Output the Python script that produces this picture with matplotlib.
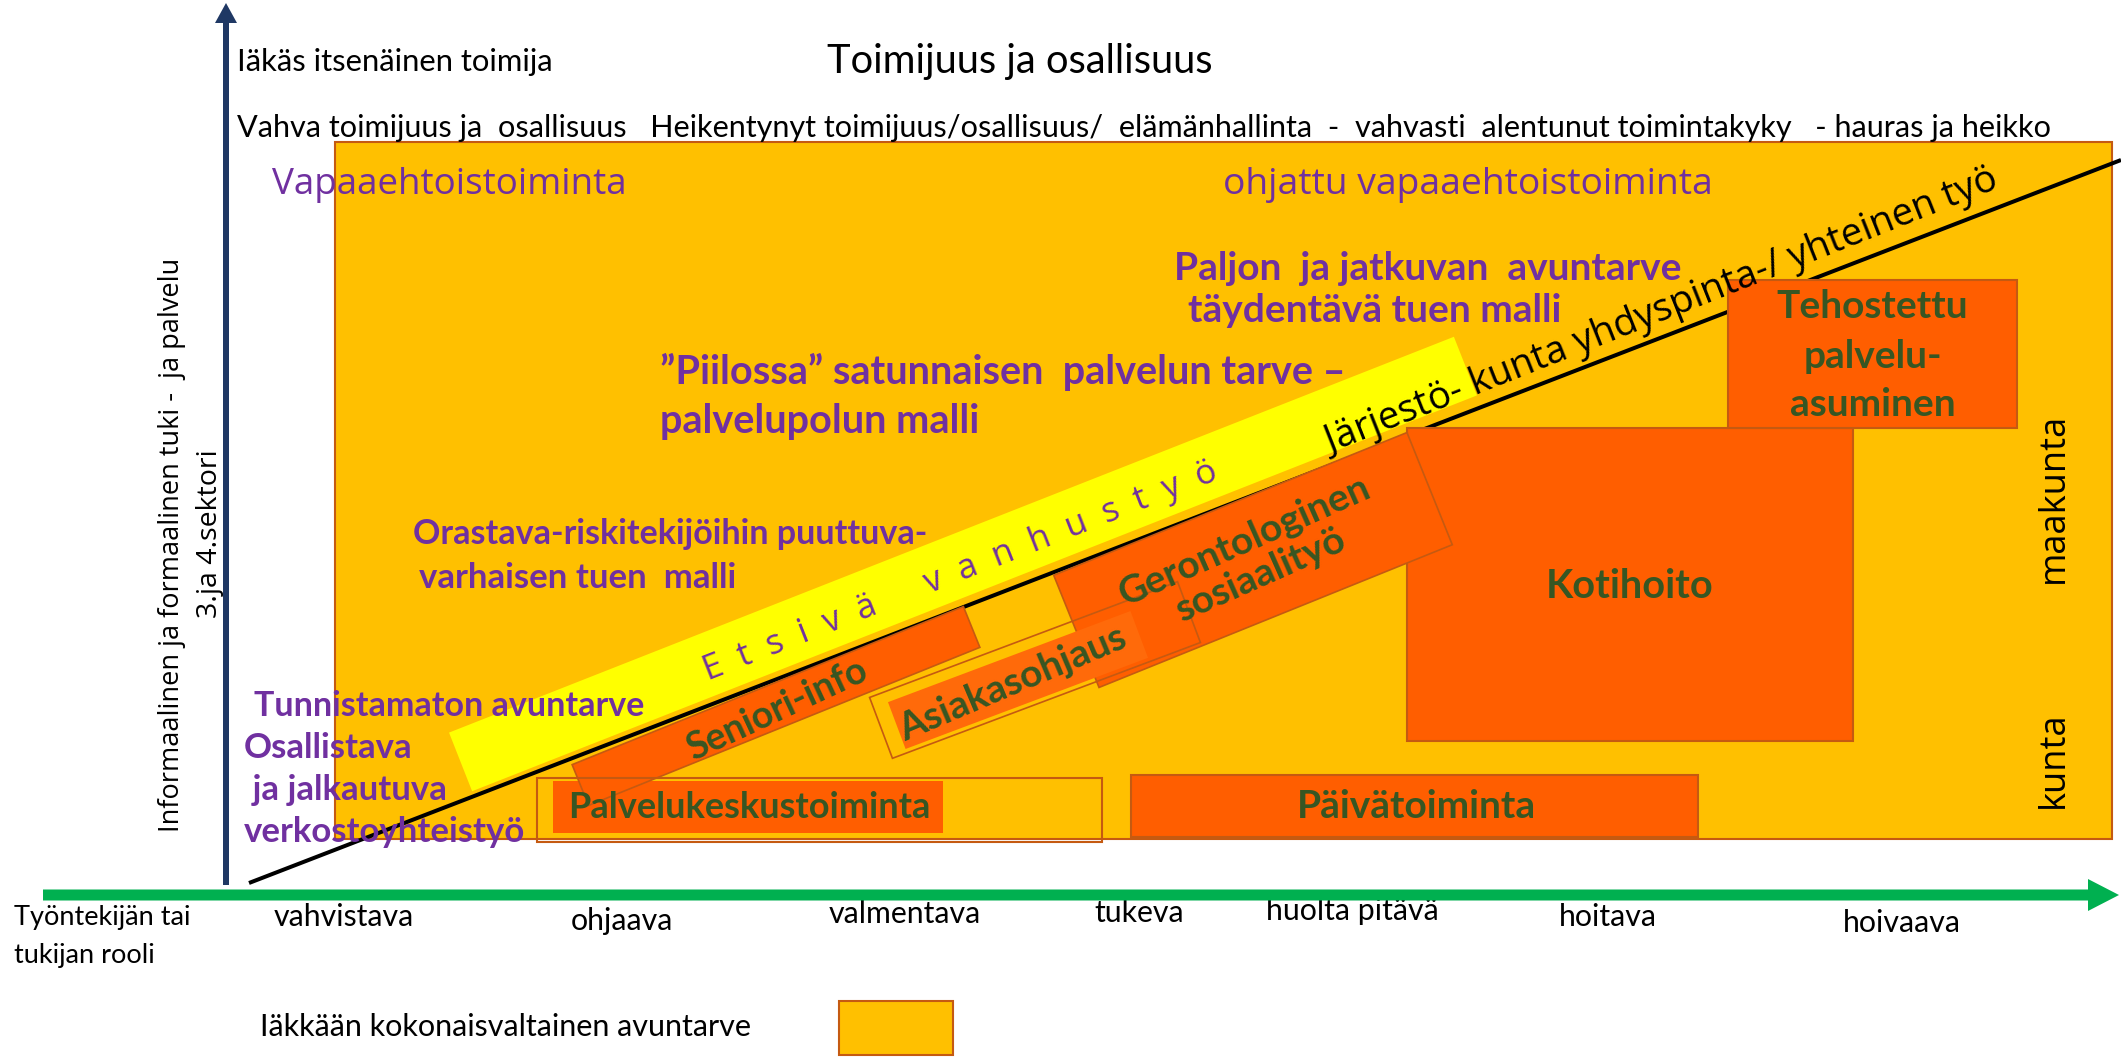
import numpy as np
import matplotlib
matplotlib.use("Agg")
import matplotlib.pyplot as plt
from matplotlib.patches import Rectangle, Polygon, FancyArrow

# ---------------- content (texts) ----------------
axis_title = "Toimijuus ja osallisuus"
top_left_label = "Iäkäs itsenäinen toimija"
scale_row = ("Vahva toimijuus ja  osallisuus   Heikentynyt toimijuus/osallisuus/  "
             "elämänhallinta  -  vahvasti  alentunut toimintakyky   - hauras ja heikko")
y_label = "Informaalinen ja formaalinen tuki -  ja palvelu"
y_sublabel = "3.ja 4.sektori"
role_title = ["Työntekijän tai", "tukijan rooli"]
roles = ["vahvistava", "ohjaava", "valmentava", "tukeva", "huolta pitävä", "hoitava", "hoivaava"]
volunteer_labels = ["Vapaaehtoistoiminta", "ohjattu vapaaehtoistoiminta"]
need_lines = ["Paljon  ja jatkuvan  avuntarve", "täydentävä tuen malli",
              "\u201dPiilossa\u201d satunnaisen  palvelun tarve \u2013", "palvelupolun malli",
              "Orastava-riskitekijöihin puuttuva-", "varhaisen tuen  malli",
              "Tunnistamaton avuntarve", "Osallistava", " ja jalkautuva", "verkostoyhteistyö"]
box_services = ["Palvelukeskustoiminta", "Päivätoiminta", "Kotihoito"]
housing_lines = ["Tehostettu", "palvelu-", "asuminen"]
tilted_services = ["Seniori-info", "Asiakasohjaus", "Gerontologinen\nsosiaalityö"]
outreach_label = "E  t  s  i  v  ä      v  a  n  h  u  s  t  y  ö"
interface_label = "Järjestö- kunta yhdyspinta-/ yhteinen työ"
level_labels = ["maakunta", "kunta"]
legend_label = "Iäkkään kokonaisvaltainen avuntarve"

# ---------------- layout (pixel space of the 2121x1057 picture) ----------------
W, H = 2121, 1057
role_x = [344, 622, 905, 1139, 1352, 1608, 1902]
role_y = [917, 921, 914, 913, 911, 917, 923]
need_xy = [(1174, 268), (1188, 311), (660, 372), (660, 422), (413, 534), (419, 578),
           (254, 706), (244, 748), (244, 790), (244, 832)]
need_size = [28, 28, 28.5, 28.5, 24.5, 25, 24.5, 25, 25, 25]
box_rects = [(553, 781, 390, 52), (1131, 775, 567, 62), (1407, 428, 446, 313)]
box_text_xy = [(749, 808), (1416, 806), (1630, 586)]
box_font = [26, 28, 28.5]
housing_rect = (1728, 280, 289, 148)
housing_y = [306, 357, 405]
level_y = [498, 760]
# rotated rectangles: center x, center y, length, height, angle (deg)
band = (963, 564, 1080, 63, 21.5)
seniori_rect = (776, 706, 422, 44, 22.0)
geront_rect = (1253, 560, 381, 121, 22.0)
asiakas_outer = (1035, 670, 329, 65, 20.6)
asiakas_inner = (1018, 680, 259, 50, 20.6)
tilted_text_xy = [(777, 710, 25), (1013, 683, 23), (1252, 558, 24)]

C_BG = "#FFC000"
C_EDGE = "#C55A11"
C_OR = "#FF5E00"
C_OR2 = "#FF6A0A"
C_YEL = "#FFFF00"
C_GREEN_TXT = "#375623"
C_PURPLE = "#7030A0"
C_BLUE = "#1F3864"
C_GREEN = "#00B050"

fig = plt.figure(figsize=(W / 100, H / 100), dpi=100)
ax = fig.add_axes([0, 0, 1, 1])
ax.set_xlim(0, W)
ax.set_ylim(H, 0)
ax.axis("off")

PX = 0.72  # points per pixel


def rot_rect(cx, cy, L, h, ang, **kw):
    a = np.deg2rad(ang)
    u = np.array([np.cos(a), -np.sin(a)])
    v = np.array([np.sin(a), np.cos(a)])
    c = np.array([cx, cy])
    pts = [c - L / 2 * u - h / 2 * v, c + L / 2 * u - h / 2 * v,
           c + L / 2 * u + h / 2 * v, c - L / 2 * u + h / 2 * v]
    return Polygon(pts, closed=True, **kw)


SANS = ["Lato", "DejaVu Sans"]
OPEN = ["Open Sans", "DejaVu Sans"]

# big background field
ax.add_patch(Rectangle((335, 142), 2112 - 335, 839 - 142, facecolor=C_BG,
                       edgecolor=C_EDGE, lw=1.5, zorder=1))

# yellow outreach band
ax.add_patch(rot_rect(*band, facecolor=C_YEL, edgecolor="none", zorder=2))

# diagonal interface line
ax.plot([249, 2121], [883, 160], color="black", lw=4 * PX, zorder=3, solid_capstyle="butt")

# axis-aligned service boxes
ax.add_patch(Rectangle((537, 778), 1102 - 537, 842 - 778, facecolor="none",
                       edgecolor=C_EDGE, lw=1.5, zorder=6))
for i, (x, y, w, h) in enumerate(box_rects):
    ax.add_patch(Rectangle((x, y), w, h, facecolor=C_OR,
                           edgecolor="none" if i == 0 else C_EDGE, lw=1.5, zorder=4))
    ax.text(*box_text_xy[i], box_services[i], fontsize=box_font[i], fontweight="bold",
            color=C_GREEN_TXT, family=SANS, ha="center", va="center", zorder=10)
ax.add_patch(Rectangle(housing_rect[:2], housing_rect[2], housing_rect[3], facecolor=C_OR,
                       edgecolor=C_EDGE, lw=1.5, zorder=4))
for s, y in zip(housing_lines, housing_y):
    ax.text(housing_rect[0] + housing_rect[2] / 2, y, s, fontsize=28, fontweight="bold",
            color=C_GREEN_TXT, family=SANS, ha="center", va="center", zorder=10)

# tilted service boxes (on top of the home-care box)
ax.add_patch(rot_rect(*seniori_rect, facecolor=C_OR, edgecolor=C_EDGE, lw=1.2, zorder=5))
ax.add_patch(rot_rect(*geront_rect, facecolor=C_OR, edgecolor=C_EDGE, lw=1.2, zorder=6))
ax.add_patch(rot_rect(*asiakas_inner, facecolor=C_OR2, edgecolor="none", zorder=7))
ax.add_patch(rot_rect(*asiakas_outer, facecolor="none", edgecolor=C_EDGE, lw=1.2, zorder=8))

for s, (x, y, r), fs in zip(tilted_services, tilted_text_xy, [27, 28, 28]):
    ax.text(x, y, s, fontsize=fs, fontweight="bold", color=C_GREEN_TXT, family=SANS,
            ha="center", va="center", rotation=r, rotation_mode="anchor",
            linespacing=1.1, multialignment="center", zorder=10)

# band label and interface label
ax.text(960, 571, outreach_label, fontsize=25, color=C_PURPLE, family=OPEN,
        ha="center", va="center", rotation=21.5, rotation_mode="anchor", zorder=10)
ax.text(1662, 312, interface_label, fontsize=27.5, color="black", family=OPEN,
        ha="center", va="center", rotation=21.6, rotation_mode="anchor", zorder=10)

# purple need texts
for s, (x, y), fs in zip(need_lines, need_xy, need_size):
    ax.text(x, y, s, fontsize=fs, fontweight="bold", color=C_PURPLE, family=SANS,
            ha="left", va="center", zorder=10)

ax.text(272, 185, volunteer_labels[0], fontsize=26.5, color=C_PURPLE, family=OPEN,
        ha="left", va="center", zorder=10)
ax.text(1468, 185, volunteer_labels[1], fontsize=26.8, color=C_PURPLE, family=OPEN,
        ha="center", va="center", zorder=10)

# top texts
ax.text(237, 62, top_left_label, fontsize=22.3, color="black", family=SANS, ha="left", va="center")
ax.text(1020, 62, axis_title, fontsize=28.7, color="black", family=SANS, ha="center", va="center")
ax.text(237, 128, scale_row, fontsize=22.1, color="black", family=SANS, ha="left", va="center")

# vertical axis labels
ax.text(172, 545, y_label, fontsize=19.5, color="black", family=OPEN, rotation=90,
        ha="center", va="center")
ax.text(210, 534, y_sublabel, fontsize=20.5, color="black", family=OPEN, rotation=90,
        ha="center", va="center")

# level labels
for s, y in zip(level_labels, level_y):
    ax.text(2054, y, s, fontsize=26, color="black", family=OPEN, rotation=90,
            ha="center", va="center", zorder=10)

# axes arrows
ax.add_patch(FancyArrow(226, 885, 0, -882, width=6, head_width=22, head_length=20,
                        length_includes_head=True, color=C_BLUE, lw=0, zorder=11))
ax.add_patch(FancyArrow(43, 895, 2119 - 43, 0, width=11, head_width=32, head_length=31,
                        length_includes_head=True, color=C_GREEN, lw=0, zorder=11))

# role labels
ax.text(14, 918, role_title[0], fontsize=19.5, color="black", family=SANS, ha="left", va="center")
ax.text(14, 955, role_title[1], fontsize=19.5, color="black", family=SANS, ha="left", va="center")
for s, x, y in zip(roles, role_x, role_y):
    ax.text(x, y, s, fontsize=21.8, color="black", family=SANS, ha="center", va="center")

# legend
ax.text(260, 1027, legend_label, fontsize=22, color="black", family=SANS, ha="left", va="center")
ax.add_patch(Rectangle((839, 1001), 114, 54, facecolor=C_BG, edgecolor=C_EDGE, lw=1.5))

fig.savefig("out.png", dpi=100)
